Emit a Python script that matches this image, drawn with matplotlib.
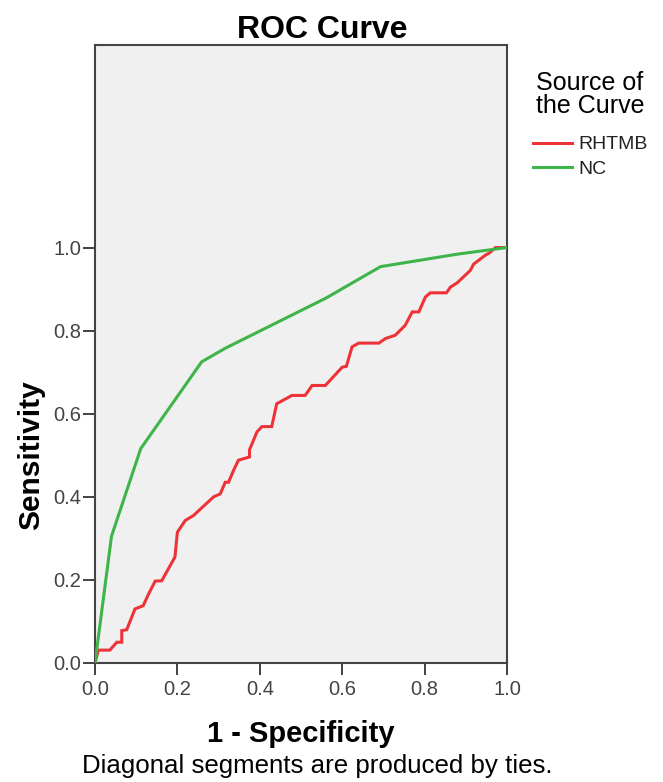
import matplotlib
matplotlib.use("Agg")
import matplotlib.pyplot as plt

plt.rcParams['font.family'] = ['Liberation Sans', 'DejaVu Sans']

# curve points (1 - specificity, sensitivity)
rhtmb_x = [0.0, 0.008, 0.036, 0.053, 0.065, 0.065, 0.077, 0.097, 0.117, 0.13, 0.146,
           0.162, 0.194, 0.200, 0.219, 0.239, 0.288, 0.304, 0.316, 0.324, 0.336, 0.348,
           0.375, 0.375, 0.393, 0.405, 0.429, 0.441, 0.478, 0.510, 0.527, 0.559, 0.600,
           0.610, 0.624, 0.640, 0.689, 0.705, 0.729, 0.753, 0.770, 0.786, 0.802, 0.814,
           0.853, 0.863, 0.879, 0.911, 0.919, 0.948, 0.956, 0.972, 0.988, 1.0]
rhtmb_y = [0.0, 0.031, 0.031, 0.050, 0.050, 0.078, 0.080, 0.130, 0.138, 0.166, 0.197,
           0.198, 0.255, 0.315, 0.343, 0.355, 0.400, 0.407, 0.435, 0.435, 0.463, 0.488,
           0.496, 0.513, 0.556, 0.569, 0.569, 0.624, 0.644, 0.644, 0.668, 0.668, 0.712,
           0.714, 0.761, 0.770, 0.770, 0.781, 0.789, 0.813, 0.845, 0.845, 0.881, 0.891,
           0.891, 0.905, 0.915, 0.945, 0.960, 0.982, 0.986, 1.0, 1.0, 1.0]

nc_x = [0.0, 0.040, 0.111, 0.259, 0.315, 0.560, 0.693, 0.879, 1.0]
nc_y = [0.0, 0.305, 0.516, 0.725, 0.757, 0.878, 0.954, 0.984, 1.0]

series_names = ['RHTMB', 'NC']
series_colors = ['#EE3338', '#3DB54A']

y_ticks = [0.0, 0.2, 0.4, 0.6, 0.8, 1.0]
x_ticks = [0.0, 0.2, 0.4, 0.6, 0.8, 1.0]

fig = plt.figure(figsize=(6.63, 7.82), dpi=100)
ax = fig.add_axes([95 / 663, 1 - 663 / 782, 412 / 663, 618 / 782])
ax.set_facecolor('#F0F0F0')

ax.plot(rhtmb_x, rhtmb_y, color=series_colors[0], lw=2.2, label=series_names[0],
        solid_joinstyle='miter', zorder=3)
ax.plot(nc_x, nc_y, color=series_colors[1], lw=2.2, label=series_names[1], zorder=3)

ax.set_xlim(0, 1)
ax.set_ylim(0, 1.4875)
ax.set_xticks(x_ticks)
ax.set_yticks(y_ticks)
ax.set_xticklabels([f'{v:.1f}' for v in x_ticks])
ax.set_yticklabels([f'{v:.1f}' for v in y_ticks])
ax.tick_params(direction='out', length=8.5, width=1.3, color='#333333',
               labelsize=14.5, labelcolor='#444444')
ax.tick_params(axis='y', pad=1.5)
ax.tick_params(axis='x', pad=4)

for s in ax.spines.values():
    s.set_color('#444444')
    s.set_linewidth(1.5)

ax.set_title('ROC Curve', fontsize=23, fontweight='bold', pad=2, x=0.551)
ax.set_xlabel('1 - Specificity', fontsize=21, fontweight='bold', labelpad=15)
ax.set_ylabel('Sensitivity', fontsize=21.5, fontweight='bold')
# label sits centred on the 0-1 range, not on the whole box
ax.yaxis.set_label_coords(-0.122, 0.5 / 1.4875)

fig.text(317 / 663, 1 - 773 / 782, 'Diagonal segments are produced by ties.',
         ha='center', va='baseline', fontsize=18.6)

leg = ax.legend(loc='upper left', bbox_to_anchor=(525 / 663, 1 - 63 / 782),
                bbox_transform=fig.transFigure, frameon=False,
                title='Source of\nthe Curve', title_fontsize=18, fontsize=14,
                handlelength=2.0, handletextpad=0.35, labelspacing=0.35,
                borderaxespad=0)
leg._legend_box.align = 'center'
leg._legend_box.sep = 13
leg.get_title().set_linespacing(0.95)
for t in leg.get_texts():
    t.set_color('#222222')

fig.savefig('out.png', dpi=100)
